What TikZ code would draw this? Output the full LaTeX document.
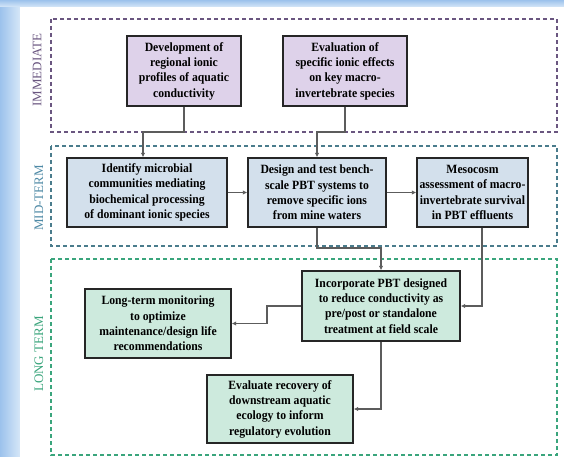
\documentclass[tikz,border=0pt]{standalone}
\usepackage{fontspec}
\setmainfont{Liberation Serif}
\newfontfamily\boxfont[FakeStretch=0.93]{Liberation Serif}
\usetikzlibrary{arrows.meta,calc}
\definecolor{glowA}{HTML}{9CC2EC}
\definecolor{glowB}{HTML}{D6E7F8}
\definecolor{immC}{HTML}{6A5680}
\definecolor{midC}{HTML}{4F8AA6}
\definecolor{midB}{HTML}{4A7C8C}
\definecolor{lonC}{HTML}{3AA57C}
\definecolor{purF}{HTML}{DED2EA}
\definecolor{bluF}{HTML}{D3E0EC}
\definecolor{grnF}{HTML}{CDEADD}
\definecolor{arrC}{HTML}{5C5C5C}
\tikzset{
  box/.style={draw=black!85, line width=1.4pt, align=center, inner sep=2pt,
    font=\boxfont\fontsize{12.6}{15.3}\selectfont\bfseries},
  pbox/.style={box, fill=purF},
  bbox/.style={box, fill=bluF},
  gbox/.style={box, fill=grnF},
  arr/.style={draw=arrC, line width=1.6pt, -{Latex[length=4.5pt,width=4.5pt]}},
  zone/.style={line width=1.2pt, dash pattern=on 4pt off 3pt},
  zlabel/.style={rotate=90, font=\rmfamily\fontsize{13}{14}\selectfont}
}
\begin{document}
\begin{tikzpicture}[x=1pt,y=-1pt]
\useasboundingbox (0,0) rectangle (564,457);
% background glow
\fill[glowB] (0,0) rectangle (564,457);
\shade[left color=glowA, right color=glowB] (0,0) rectangle (20,457);
\shade[top color=glowA, bottom color=glowB] (0,0) rectangle (564,7);
\fill[white] (20,7) rectangle (564,457);
% zones
\draw[zone, draw=immC] (51,19) rectangle (557,132);
\draw[zone, draw=midB] (51,146) rectangle (557,246);
\draw[zone, draw=lonC] (51,259) rectangle (557,455);
\node[zlabel, text=immC] (limm) at (37,70) {IMMEDIATE};
\node[zlabel, text=midC] (lmid) at (39,198) {MID-TERM};
\node[zlabel, text=lonC] (llon) at (39,354) {LONG TERM};
% boxes
\node[pbox, minimum width=114pt, minimum height=70pt] (dev) at (184,71)
  {Development of\\regional ionic\\profiles of aquatic\\conductivity};
\node[pbox, minimum width=124pt, minimum height=70pt] (eval) at (345,71)
  {Evaluation of\\specific ionic effects\\on key macro-\\invertebrate species};
\node[bbox, minimum width=160pt, minimum height=69pt] (ident) at (147,192.5)
  {Identify microbial\\communities mediating\\biochemical processing\\of dominant ionic species};
\node[bbox, minimum width=138pt, minimum height=69pt] (design) at (317,192.5)
  {Design and test bench-\\scale PBT systems to\\remove specific ions\\from mine waters};
\node[bbox, minimum width=111pt, minimum height=69pt] (meso) at (472.5,192.5)
  {Mesocosm\\assessment of macro-\\invertebrate survival\\in PBT effluents};
\node[gbox, minimum width=158pt, minimum height=70pt] (incorp) at (381,306)
  {Incorporate PBT designed\\to reduce conductivity as\\pre/post or standalone\\treatment at field scale};
\node[gbox, minimum width=146pt, minimum height=69pt] (ltm) at (158,323.5)
  {Long-term monitoring\\to optimize\\maintenance/design life\\recommendations};
\node[gbox, minimum width=146pt, minimum height=68pt] (evrec) at (280,409)
  {Evaluate recovery of\\downstream aquatic\\ecology to inform\\regulatory evolution};
% connectors
\coordinate (j1) at (143,132);
\coordinate (j2) at (317,132);
\coordinate (j3) at (381,248);
\coordinate (j4) at (482,306);
\coordinate (j5) at (267,306);
\draw[arr] (dev.south) |- (j1) -- (j1 |- ident.north);
\draw[arr] (eval.south) |- (j2) -- (design.north);
\draw[arr] (ident.east) -- (design.west);
\draw[arr] (design.east) -- (meso.west);
\draw[arr] (design.south) |- (j3) -- (incorp.north);
\draw[arr] (j4 |- meso.south) -- (j4) -- (incorp.east);
\draw[arr] (incorp.west) -- (j5) |- (ltm.east);
\draw[arr] (incorp.south) |- (evrec.east);
\end{tikzpicture}
\end{document}
